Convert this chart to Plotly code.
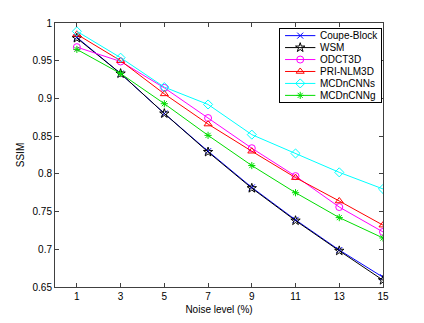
import plotly.graph_objects as go

noise_levels = [1, 3, 5, 7, 9, 11, 13, 15]

coupe_block = [0.981, 0.933, 0.880, 0.830, 0.782, 0.739, 0.699, 0.663]
wsm = [0.980, 0.933, 0.880, 0.829, 0.781, 0.738, 0.698, 0.659]
odct3d = [0.968, 0.949, 0.914, 0.874, 0.834, 0.797, 0.756, 0.723]
pri_nlm3d = [0.985, 0.950, 0.906, 0.866, 0.830, 0.795, 0.764, 0.732]
mcdncnn_s = [0.989, 0.954, 0.915, 0.892, 0.852, 0.827, 0.802, 0.780]
mcdncnn_g = [0.965, 0.933, 0.893, 0.851, 0.811, 0.775, 0.742, 0.715]

x_ticks = [1, 3, 5, 7, 9, 11, 13, 15]
y_ticks = [0.65, 0.7, 0.75, 0.8, 0.85, 0.9, 0.95, 1]
y_tick_text = ["0.65", "0.7", "0.75", "0.8", "0.85", "0.9", "0.95", "1"]

series = [
    ("Coupe-Block", coupe_block, "#0000ff", "x-thin-open", 6),
    ("WSM", wsm, "#000000", "star-open", 7),
    ("ODCT3D", odct3d, "#ff00ff", "circle-open", 7),
    ("PRI-NLM3D", pri_nlm3d, "#ff0000", "triangle-up-open", 7),
    ("MCDnCNNs", mcdncnn_s, "#00ffff", "diamond-open", 7),
    ("MCDnCNNg", mcdncnn_g, "#00dd00", "asterisk-open", 6),
]

fig = go.Figure()
for name, values, color, symbol, size in series:
    fig.add_trace(
        go.Scatter(
            x=noise_levels,
            y=values,
            name=name,
            mode="lines+markers",
            line=dict(color=color, width=1),
            marker=dict(symbol=symbol, size=size, color=color, line=dict(color=color, width=1)),
            showlegend=False,
        )
    )

# MATLAB-like compact legend, drawn in a small overlay subplot (x2/y2)
for i, (name, values, color, symbol, size) in enumerate(series):
    yc = 1 - (0.09 + i * 0.164)
    fig.add_trace(
        go.Scatter(
            x=[0.05, 0.35], y=[yc, yc], xaxis="x2", yaxis="y2",
            mode="lines", line=dict(color=color, width=1),
            showlegend=False, hoverinfo="skip",
        )
    )
    fig.add_trace(
        go.Scatter(
            x=[0.2], y=[yc], xaxis="x2", yaxis="y2",
            mode="markers",
            marker=dict(symbol=symbol, size=size, color=color, line=dict(color=color, width=1)),
            showlegend=False, hoverinfo="skip",
        )
    )
    fig.add_annotation(
        x=0.38, y=yc, xref="x2", yref="y2", text=name, showarrow=False,
        xanchor="left", yanchor="middle", font=dict(size=10, color="#000000"),
    )

axis_style = dict(
    showline=True,
    linecolor="#404040",
    linewidth=1,
    mirror="ticks",
    ticks="inside",
    ticklen=4,
    tickcolor="#404040",
    showgrid=False,
    zeroline=False,
    automargin=False,
    tickfont=dict(size=10, color="#000000"),
)

legend_axis = dict(
    range=[0, 1], showline=True, mirror=True, linecolor="#000000", linewidth=1,
    showgrid=False, zeroline=False, showticklabels=False, ticks="", fixedrange=True,
)

fig.update_layout(
    width=424,
    height=323,
    paper_bgcolor="white",
    plot_bgcolor="white",
    font=dict(family="Liberation Sans, Arial, sans-serif", size=10, color="#000000"),
    margin=dict(l=55, r=41, t=23, b=36),
    showlegend=False,
    xaxis=dict(
        range=[0, 15],
        tickvals=x_ticks,
        title=dict(text="Noise level (%)", font=dict(size=10), standoff=4),
        **axis_style,
    ),
    yaxis=dict(
        range=[0.65, 1],
        tickvals=y_ticks,
        ticktext=y_tick_text,
        title=dict(text="SSIM", font=dict(size=10), standoff=6),
        **axis_style,
    ),
    xaxis2=dict(domain=[0.686, 0.994], anchor="y2", **legend_axis),
    yaxis2=dict(domain=[0.701, 0.977], anchor="x2", **legend_axis),
)

# drop the default page margin so the figure sits at the window's top-left corner
fig.write_html(
    "out.html",
    config={"displayModeBar": False},
    post_script="document.body.style.margin='0';",
)
